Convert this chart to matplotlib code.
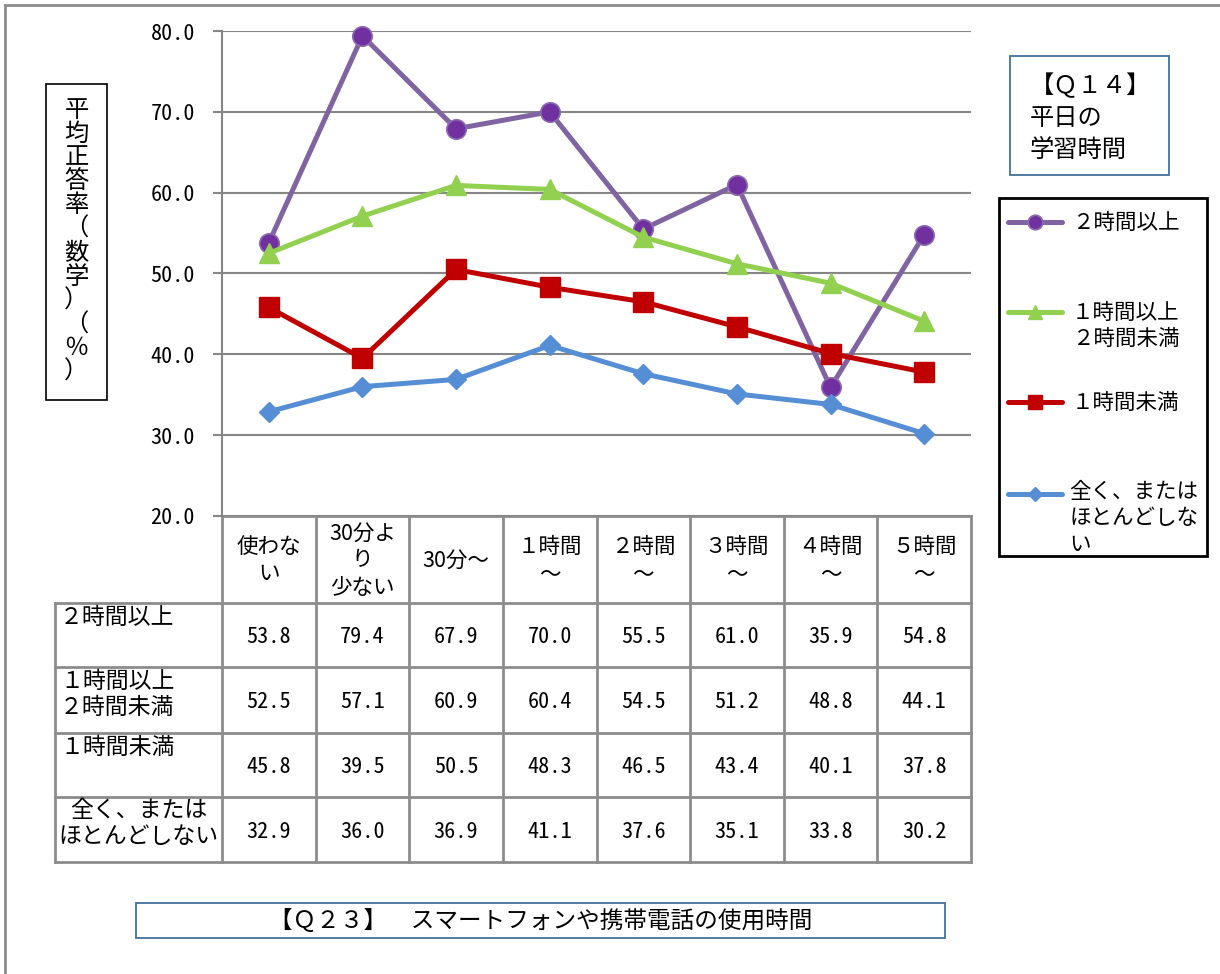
import numpy as np
import matplotlib
matplotlib.use("Agg")
import matplotlib.pyplot as plt
from matplotlib.patches import Rectangle

plt.rcParams['font.family'] = ['Noto Sans CJK JP', 'DejaVu Sans']
NUM_FONT = ['Noto Sans Mono CJK JP', 'Liberation Sans Narrow', 'DejaVu Sans']

# スマホ使用時間（横軸）
categories = ['使わな\nい', '30分よ\nり\n少ない', '30分～', '１時間\n～', '２時間\n～',
              '３時間\n～', '４時間\n～', '５時間\n～']

# 平日の学習時間ごとの平均正答率（数学）
series_names = ['２時間以上', '１時間以上\n２時間未満', '１時間未満', '全く、または\nほとんどしない']
legend_names = ['２時間以上', '１時間以上\n２時間未満', '１時間未満', '全く、または\nほとんどしな\nい']
study_2h_plus = [53.8, 79.4, 67.9, 70.0, 55.5, 61.0, 35.9, 54.8]
study_1h_2h = [52.5, 57.1, 60.9, 60.4, 54.5, 51.2, 48.8, 44.1]
study_under_1h = [45.8, 39.5, 50.5, 48.3, 46.5, 43.4, 40.1, 37.8]
study_none = [32.9, 36.0, 36.9, 41.1, 37.6, 35.1, 33.8, 30.2]
all_series = [study_2h_plus, study_1h_2h, study_under_1h, study_none]

styles = [
    dict(color='#8064A2', marker='o', ms=14, mfc='#7030A0', mec='#8C6BB1', mew=1.2),
    dict(color='#92D050', marker='^', ms=14, mfc='#92D050', mec='#92D050'),
    dict(color='#C00000', marker='s', ms=14, mfc='#C00000', mec='#C00000'),
    dict(color='#558ED5', marker='D', ms=10, mfc='#558ED5', mec='#558ED5'),
]

W, H = 1220, 974
fig = plt.figure(figsize=(W / 100, H / 100), dpi=100)

# pixel-space overlay for table, boxes and legend
ov = fig.add_axes([0, 0, 1, 1])
ov.set_xlim(0, W)
ov.set_ylim(H, 0)
ov.axis('off')

left, right, top, bottom = 222, 971, 31, 516
ax = fig.add_axes([left / W, 1 - bottom / H, (right - left) / W, (bottom - top) / H])
ax.patch.set_alpha(0)

x = np.arange(len(categories)) + 0.5
for vals, st in zip(all_series, styles):
    ax.plot(x, vals, lw=3.6, solid_capstyle='round', **st, clip_on=False)

ax.set_xlim(0, len(categories))
ax.set_ylim(20, 80)
ax.set_xticks([])
yt = np.arange(20, 81, 10)
ax.set_yticks(yt)
ax.set_yticklabels([f'{v:.1f}' for v in yt], family=NUM_FONT, fontsize=16)
ax.tick_params(axis='y', direction='out', length=6.5, width=1.5, color='#868686', pad=13)
ax.grid(axis='y', color='#868686', lw=1.5)
ax.set_axisbelow(True)
for s in ['top', 'right', 'bottom']:
    ax.spines[s].set_visible(False)
ax.spines['left'].set_color('#868686')
ax.spines['left'].set_linewidth(1.5)

# outer frame
ov.plot([5, W], [5, 5], color='#8C8C8C', lw=2)
ov.plot([5, 5], [5, H], color='#8C8C8C', lw=2)

# data table under the plot
gc = '#8C8C8C'
tab_left = 55
col_edges = np.linspace(left, right, len(categories) + 1)
row_edges = [bottom, 603, 667, 733, 797, 862]
ov.plot([left, right], [bottom, bottom], color=gc, lw=2)
for e in col_edges:
    ov.plot([e, e], [bottom, row_edges[-1]], color=gc, lw=2)
ov.plot([tab_left, tab_left], [row_edges[1], row_edges[-1]], color=gc, lw=2)
for r in row_edges[1:]:
    ov.plot([tab_left, right], [r, r], color=gc, lw=2)

centers = (col_edges[:-1] + col_edges[1:]) / 2
for cx, lab in zip(centers, categories):
    ov.text(cx, (row_edges[0] + row_edges[1]) / 2 + 1, lab, ha='center', va='center',
            fontsize=15.5, linespacing=1.3)

for i, (name, vals) in enumerate(zip(series_names, all_series)):
    y0, y1 = row_edges[i + 1], row_edges[i + 2]
    if i == 3:
        ov.text((tab_left + left) / 2, y0 + 2, name, ha='center', va='top',
                fontsize=16.5, linespacing=1.15)
    else:
        ov.text(tab_left + 5, y0 + 3, name, ha='left', va='top',
                fontsize=16.5, linespacing=1.15)
    for cx, v in zip(centers, vals):
        ov.text(cx, (y0 + y1) / 2 + 2, f'{v:.1f}', ha='center', va='center',
                family=NUM_FONT, fontsize=16)

# y axis label box (vertical writing)
ov.add_patch(Rectangle((46, 84), 61, 316, fill=False, ec='black', lw=1.2))
ylabel_chars = list('平均正答率（数学）（％）')
for k, ch in enumerate(ylabel_chars):
    ov.text(76.5, 110 + k * 23.8, ch, ha='center', va='center', fontsize=17.5)

# Q14 box
ov.add_patch(Rectangle((1010, 56), 159, 119, fill=False, ec='#41719C', lw=1.3))
ov.text(1030, 73, '【Ｑ１４】\n平日の\n学習時間', ha='left', va='top', fontsize=17.5,
        linespacing=1.3)

# legend
ov.add_patch(Rectangle((999, 198), 208, 358, fill=False, ec='black', lw=2))
leg_y = [222, 312, 402, 494]
for ly, name, st in zip(leg_y, legend_names, styles):
    ov.plot([1008, 1035, 1062], [ly] * 3, lw=3.6, markevery=[1], solid_capstyle='round',
            **{**st, 'ms': st['ms'] * 0.75})
    ov.text(1072 if ly != leg_y[-1] else 1069, ly - 10 if ly != leg_y[-1] else ly - 13,
            name, ha='left', va='top', fontsize=15.5, linespacing=1.25)

# x axis title box
ov.add_patch(Rectangle((136, 903), 809, 35, fill=False, ec='#41719C', lw=1.3))
ov.text(541, 921, '【Ｑ２３】　スマートフォンや携帯電話の使用時間', ha='center', va='center',
        fontsize=17)

fig.savefig('out.png', dpi=100)
